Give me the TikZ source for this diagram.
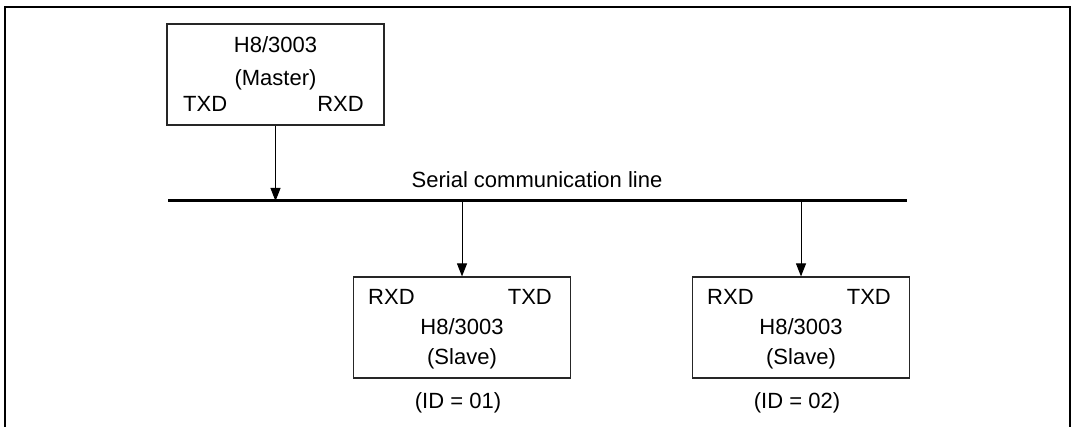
\documentclass[tikz,border=0pt]{standalone}
\usepackage{fontspec}
\setmainfont{Liberation Sans}
\usetikzlibrary{arrows.meta}
\begin{document}
\begin{tikzpicture}[x=1pt,y=-1pt,
  unit/.style={draw=black!85,line width=1.2pt,minimum width=217pt,minimum height=101pt,inner sep=0pt},
  lbl/.style={font=\fontsize{22}{26}\selectfont,inner sep=0pt,anchor=base},
  arr/.style={line width=1pt,-{Triangle[length=13pt,width=10pt]}},
  bus/.style={line width=3pt},
  frame/.style={line width=2.5pt}]
\useasboundingbox (0,0) rectangle (1075,427);
\clip (0,0) rectangle (1075,427);
\draw[frame] (5,440) |- (1070,7) -- (1070,440);
% master
\node[unit] (master) at (275.5,74.5) {};
\node[lbl] (mname) at (275.5,53) {H8/3003};
\node[lbl] (mrole) at (275.5,85.5) {(Master)};
\node[lbl,anchor=base west] (mtxd) at (183,112) {TXD};
\node[lbl,anchor=base east] (mrxd) at (364,112) {RXD};
% bus
\coordinate (busL) at (168,201);
\coordinate (busR) at (907,201);
\draw[bus] (busL) -- (busR);
\node[lbl] (buslbl) at (537,188) {Serial communication line};
% slave 1
\node[unit] (s1) at (462,327.5) {};
\node[lbl,anchor=base west] (s1rxd) at (368,305) {RXD};
\node[lbl,anchor=base east] (s1txd) at (552,305) {TXD};
\node[lbl] (s1name) at (462,334.5) {H8/3003};
\node[lbl] (s1role) at (462,364) {(Slave)};
\node[lbl] (s1id) at (458,408) {(ID = 01)};
% slave 2
\node[unit] (s2) at (801,327.5) {};
\node[lbl,anchor=base west] (s2rxd) at (707,305) {RXD};
\node[lbl,anchor=base east] (s2txd) at (891,305) {TXD};
\node[lbl] (s2name) at (801,334.5) {H8/3003};
\node[lbl] (s2role) at (801,364) {(Slave)};
\node[lbl] (s2id) at (797,408) {(ID = 02)};
% connectors
\draw[arr] (master.south) -- (master.south |- busL);
\draw[arr] (s1.north |- busL) -- (s1.north);
\draw[arr] (s2.north |- busL) -- (s2.north);
\end{tikzpicture}
\end{document}
